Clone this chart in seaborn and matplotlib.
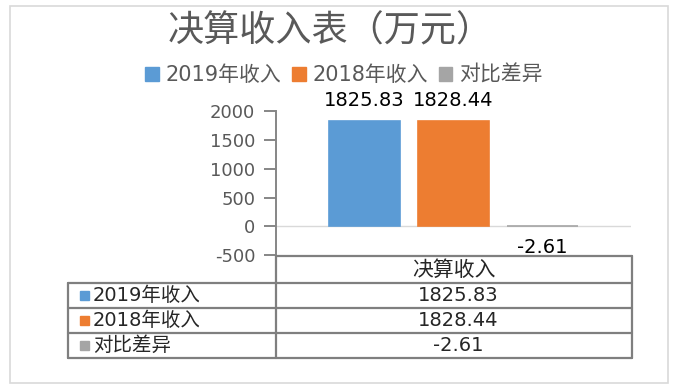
import matplotlib
matplotlib.use("Agg")
import matplotlib.pyplot as plt
import seaborn as sns
import pandas as pd
from matplotlib.patches import Rectangle
from matplotlib.lines import Line2D

# ---- data ----
categories = ["决算收入"]
series_names = ["2019年收入", "2018年收入", "对比差异"]
values = [1825.83, 1828.44, -2.61]
value_labels = ["1825.83", "1828.44", "-2.61"]
colors = ["#5B9BD5", "#ED7D31", "#A5A5A5"]
yticks = [-500, 0, 500, 1000, 1500, 2000]
title = "决算收入表（万元）"

df = pd.DataFrame({"类别": categories * len(series_names),
                   "系列": series_names,
                   "值": values})

sns.set_theme(style="white")
FAM = ['DejaVu Sans', 'Noto Sans CJK SC']
CJK = ['Noto Sans CJK SC', 'DejaVu Sans']
plt.rcParams['font.family'] = FAM

W, H = 679, 389
fig = plt.figure(figsize=(W / 100, H / 100), dpi=100)
fig.patch.set_facecolor("white")


def fx(x):
    return x / W


def fy(y):
    return 1 - y / H


# ---- bar axes ----
ax = fig.add_axes([fx(276), fy(255), fx(631) - fx(276), fy(111.5) - fy(255)])
sns.barplot(data=df, x="类别", y="值", hue="系列", hue_order=series_names,
            palette=colors, width=0.753, gap=0.2, saturation=1,
            ax=ax, legend=False, errorbar=None)
for p in ax.patches:
    p.set_edgecolor(p.get_facecolor())
    p.set_linewidth(1.2)
ax.set_xlim(-0.5, 0.5)
ax.set_ylim(-500, 2000)
ax.set_yticks(yticks)
ax.set_yticklabels([str(t) for t in yticks])
ax.set_xticks([])
ax.set_xlabel("")
ax.set_ylabel("")
ax.set_facecolor("none")
for s in ["top", "right", "bottom"]:
    ax.spines[s].set_visible(False)
ax.spines["left"].set_color("#868686")
ax.spines["left"].set_linewidth(1.4)
ax.tick_params(axis="y", direction="out", length=9, width=1.4, color="#868686",
               labelcolor="#595959", labelsize=13, pad=6, left=True)
ax.axhline(0, color="#d9d9d9", lw=1, zorder=0)

for i, cont in enumerate(ax.containers):
    ax.bar_label(cont, labels=[value_labels[i]], padding=8, fontsize=14,
                 color="#000000")

# ---- title ----
fig.text(fx(330), fy(31), title, ha="center", va="center", fontsize=26,
         color="#595959", family=CJK)

# ---- legend ----
handles = [Rectangle((0, 0), 1, 1, color=c) for c in colors]
fig.legend(handles, series_names, loc="center", bbox_to_anchor=(fx(344), fy(75)),
           ncol=3, frameon=False, fontsize=15, handlelength=0.65,
           handleheight=0.65, handletextpad=0.35, columnspacing=0.5,
           labelcolor="#595959")

# ---- outer border ----
fig.add_artist(Rectangle((fx(10), fy(383)), fx(668) - fx(10), fy(6) - fy(383),
                         fill=False, ec="#d9d9d9", lw=1.2,
                         transform=fig.transFigure))

# ---- data table ----
lc = "#7f7f7f"
lw = 1.6
xl, xm, xr = 68, 276, 632
yh, rows = 256, [283, 308, 333, 358]


def hline(x0, x1, y):
    fig.add_artist(Line2D([fx(x0), fx(x1)], [fy(y), fy(y)], color=lc, lw=lw,
                          transform=fig.transFigure))


def vline(x, y0, y1):
    fig.add_artist(Line2D([fx(x), fx(x)], [fy(y0), fy(y1)], color=lc, lw=lw,
                          transform=fig.transFigure))


hline(xm, xr, yh)
for y in rows:
    hline(xl, xr, y)
vline(xl, rows[0], rows[-1])
vline(xm, yh, rows[-1])
vline(xr, yh, rows[-1])

fig.text(fx((xm + xr) / 2), fy((yh + rows[0]) / 2), categories[0],
         ha="center", va="center", fontsize=15, color="#262626", family=CJK)
for i, name in enumerate(series_names):
    yc = (rows[i] + rows[i + 1]) / 2
    fig.add_artist(Rectangle((fx(80), fy(yc + 4.5)), fx(9), 9 / H,
                             color=colors[i], transform=fig.transFigure))
    fig.text(fx(93), fy(yc), name, ha="left", va="center", fontsize=14,
             color="#262626")
    fig.text(fx((xm + xr) / 2 + 4), fy(yc), value_labels[i], ha="center",
             va="center", fontsize=14, color="#262626")

fig.savefig("out.png", dpi=100)
